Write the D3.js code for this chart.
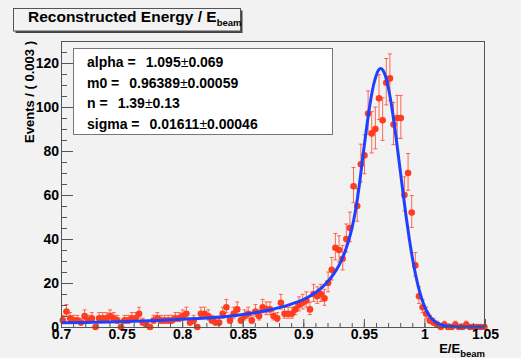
<!DOCTYPE html>
<html>
<head>
<meta charset="utf-8">
<script src="https://cdn.jsdelivr.net/npm/d3@7"></script>
<style>
body { margin: 0; background: #f2f2f2; }
text { font-family: "Liberation Sans", Arial, sans-serif; font-weight: bold; }
</style>
</head>
<body>
<div id="canvas"></div>
<script>
// histogram: bins of 0.003 starting at 0.7
const binStart = 0.7, binWidth = 0.003;
const counts = [
    3, 7, 4, 3, 3, 2, 5, 3, 4, 0,
    4, 4, 4, 5, 4, 3, 0, 3, 3, 4,
    4, 6, 2, 1, 0, 3, 4, 3, 3, 3,
    3, 4, 4, 5, 6, 2, 3, 0, 6, 6,
    5, 3, 2, 2, 6, 9, 3, 6, 8, 3,
    5, 6, 3, 7, 5, 9, 8, 8, 5, 4,
    11, 6, 6, 6, 8, 10, 11, 12, 8, 15,
    14, 15, 13, 20, 26, 36, 35, 31, 40, 45,
    64, 55, 74, 78, 97, 88, 90, 104, 94, 111,
    113, 92, 95, 95, 60, 70, 52, 28, 14, 9,
    6, 3, 2, 1, 0, 1, 0, 0, 1, 0,
    0, 1, 0, 0, 0, 0, 0
];

// fitted curve
const curveX = [0.70, 0.72, 0.74, 0.76, 0.78, 0.80, 0.82, 0.84, 0.85, 0.86, 0.87, 0.88, 0.89,
    0.90, 0.91, 0.92, 0.925, 0.93, 0.935, 0.94, 0.943, 0.946, 0.9475, 0.95, 0.952, 0.955,
    0.958, 0.96, 0.962, 0.964, 0.966, 0.968, 0.97, 0.972, 0.974, 0.976, 0.978, 0.98, 0.982,
    0.985, 0.9875, 0.99, 0.9925, 0.995, 0.9975, 1.0, 1.0025, 1.005, 1.0075, 1.01, 1.015,
    1.02, 1.03, 1.05];
const curveY = [1.9, 2.1, 2.3, 2.6, 3.0, 3.5, 4.1, 5.0, 5.7, 6.5, 7.5, 8.8, 10.4,
    12.5, 15.6, 20.5, 24, 28.6, 35.1, 44.5, 52.6, 63.4, 70, 81, 89.5, 101,
    110, 114, 116.7, 117.5, 116.5, 113.7, 109.3, 103.5, 96.5, 88.6, 80, 71.3, 62.5,
    49.8, 40.1, 31.6, 24.3, 18.2, 13.3, 9.5, 6.6, 4.5, 3.0, 1.9, 0.8,
    0.3, 0.05, 0];

const xTicks = [0.7, 0.75, 0.8, 0.85, 0.9, 0.95, 1, 1.05];
const yTicks = [0, 20, 40, 60, 80, 100, 120];

const fitNames = ["alpha", "m0", "n", "sigma"];
const fitValues = ["1.095", "0.96389", "1.39", "0.01611"];
const fitErrors = ["0.069", "0.00059", "0.13", "0.00046"];

const canvWidth = 521, canvHeight = 358;
const frame = {left: 61, top: 41, right: 485, bottom: 327};

const svg = d3.select("#canvas").append("svg")
    .attr("width", canvWidth)
    .attr("height", canvHeight);

svg.append("rect")
    .attr("width", canvWidth)
    .attr("height", canvHeight)
    .attr("fill", "#f2f2f2");

const x = d3.scaleLinear().domain([0.7, 1.05]).range([frame.left, frame.right]);
const y = d3.scaleLinear().domain([0, 130]).range([frame.bottom, frame.top]);

// data points with poisson-ish error bars
const bins = counts.map(function (c, i) {
    return {x: binStart + binWidth * (i + 0.5), n: c};
}).filter(function (d) { return d.x <= 1.05; });

const red = "#ff3c1e";
const pts = svg.append("g");

bins.forEach(function (d) {
    const s = Math.sqrt(d.n + 0.25);
    const hi = y(d.n + s + 0.5), lo = y(Math.max(0, d.n - s + 0.5));
    const cx = x(d.x);
    const g = pts.append("g")
        .attr("stroke", red)
        .attr("stroke-width", 1)
        .attr("stroke-opacity", 0.75);
    g.append("line").attr("x1", cx).attr("x2", cx).attr("y1", hi).attr("y2", lo);
    g.append("line").attr("x1", cx - 2).attr("x2", cx + 2).attr("y1", hi).attr("y2", hi);
    g.append("line").attr("x1", cx - 2).attr("x2", cx + 2).attr("y1", lo).attr("y2", lo);
});

pts.selectAll("circle")
    .data(bins)
    .enter().append("circle")
    .attr("cx", function (d) { return x(d.x); })
    .attr("cy", function (d) { return y(d.n); })
    .attr("r", 3.3)
    .attr("fill", red);

// fit curve
const line = d3.line()
    .x(function (d) { return x(d[0]); })
    .y(function (d) { return y(d[1]); })
    .curve(d3.curveMonotoneX);

svg.append("path")
    .datum(d3.zip(curveX, curveY))
    .attr("d", line)
    .attr("fill", "none")
    .attr("stroke", "#1f40ff")
    .attr("stroke-width", 3);

// frame
svg.append("rect")
    .attr("x", frame.left + 0.5)
    .attr("y", frame.top + 0.5)
    .attr("width", frame.right - frame.left - 1)
    .attr("height", frame.bottom - frame.top)
    .attr("fill", "none")
    .attr("stroke", "#555");

// axes, ticks pointing inside
function styleAxis(g) {
    g.select(".domain").remove();
    g.selectAll("line").attr("stroke", "#555");
    g.selectAll("text").attr("font-size", 14).attr("fill", "#000")
        .attr("font-family", "Liberation Sans, Arial, sans-serif");
}

const xMinor = d3.range(70, 106).map(function (v) { return v / 100; });
const yMinor = d3.range(0, 131, 5);

svg.append("g")
    .attr("transform", "translate(0," + frame.bottom + ")")
    .call(d3.axisBottom(x).tickValues(xMinor).tickSize(-4).tickFormat(""))
    .call(styleAxis);
svg.append("g")
    .attr("transform", "translate(0," + frame.bottom + ")")
    .call(d3.axisBottom(x).tickValues(xTicks).tickSize(-8).tickPadding(2.5).tickFormat(d3.format("~g")))
    .call(styleAxis);

svg.append("g")
    .attr("transform", "translate(" + frame.left + ",0)")
    .call(d3.axisLeft(y).tickValues(yMinor).tickSize(-6).tickFormat(""))
    .call(styleAxis);
svg.append("g")
    .attr("transform", "translate(" + frame.left + ",0)")
    .call(d3.axisLeft(y).tickValues(yTicks).tickSize(-12).tickPadding(2))
    .call(styleAxis);

// axis titles
svg.append("text")
    .attr("transform", "translate(34," + frame.top + ") rotate(-90)")
    .attr("text-anchor", "end")
    .attr("font-size", 13)
    .text("Events / ( 0.003 )");

const xt = svg.append("text")
    .attr("x", frame.right)
    .attr("y", 353)
    .attr("text-anchor", "end")
    .attr("font-size", 13);
xt.append("tspan").text("E/E");
xt.append("tspan").attr("font-size", 9.5).attr("dy", 3.5).text("beam");

// title box
svg.append("rect")
    .attr("x", 15.5).attr("y", 10.5)
    .attr("width", 227).attr("height", 22.5)
    .attr("fill", "#444");
svg.append("rect")
    .attr("x", 13.5).attr("y", 8.5)
    .attr("width", 227).attr("height", 22.5)
    .attr("fill", "#f2f2f2")
    .attr("stroke", "#555");
const title = svg.append("text")
    .attr("x", 28)
    .attr("y", 21.5)
    .attr("font-size", 15.5);
title.append("tspan").text("Reconstructed Energy / E");
title.append("tspan").attr("font-size", 9.5).attr("dy", 4.5).text("beam");

// fit parameter box
svg.append("rect")
    .attr("x", 73.5).attr("y", 48.5)
    .attr("width", 259).attr("height", 86)
    .attr("fill", "#fff")
    .attr("stroke", "#777");

fitNames.forEach(function (name, i) {
    const t = svg.append("text")
        .attr("x", 87)
        .attr("y", 66.7 + i * 20.8)
        .attr("font-size", 14);
    t.append("tspan").text(name + " =");
    t.append("tspan").attr("dx", 10).text(fitValues[i]);
    t.append("tspan").attr("font-weight", "normal").text("\u00b1");
    t.append("tspan").text(fitErrors[i]);
});
</script>
</body>
</html>
